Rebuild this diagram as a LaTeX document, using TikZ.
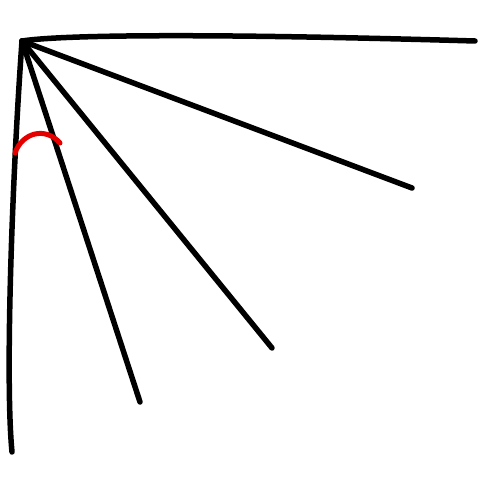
\documentclass[tikz,border=0pt]{standalone}
\begin{document}
\begin{tikzpicture}[x=1pt,y=-1pt,
  ray/.style={line width=5.5pt,line cap=round,black},
  arcmark/.style={line width=5pt,line cap=round,red!90!black}]
\useasboundingbox (0,0) rectangle (500,476);
\coordinate (O) at (22,41);
\coordinate (A) at (475,41);
\coordinate (B) at (412,188);
\coordinate (C) at (272,348);
\coordinate (D) at (140,402);
\coordinate (E) at (12,452);
\draw[ray] (O) .. controls (60,35) and (200,33) .. (A);
\draw[ray] (O) -- (B);
\draw[ray] (O) -- (C);
\draw[ray] (O) -- (D);
\draw[ray] (O) .. controls (12,180) and (5,380) .. (E);
\coordinate (R1) at (15,153);
\coordinate (R2) at (60,143);
\draw[arcmark] (R1) .. controls (22,133) and (45,126) .. (R2);
\end{tikzpicture}
\end{document}
